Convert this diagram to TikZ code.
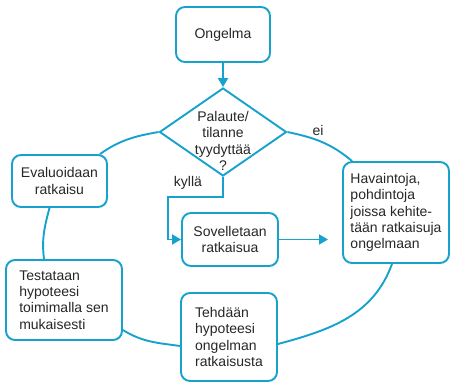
\documentclass[tikz,border=0pt]{standalone}
\usepackage{fontspec}
\setmainfont{Liberation Sans}
\usetikzlibrary{shapes.geometric,arrows.meta}
\definecolor{flow}{RGB}{22,162,204}
\begin{document}
\begin{tikzpicture}[x=1pt,y=1pt,
  every node/.style={font=\fontsize{14}{16.2}\selectfont, text=black!85},
  box/.style={draw=flow, line width=1.9pt, rounded corners=9pt, inner sep=0pt},
  link/.style={draw=flow, line width=1.9pt},
  arrow/.style={link, -{Triangle[length=9pt,width=10pt]}}]
\useasboundingbox (0,0) rectangle (455,-385);

% boxes
\node[box, minimum width=94pt, minimum height=55pt] (ong) at (223,-34.5) {Ongelma};
\node[draw=flow, line width=1.9pt, shape=diamond, minimum width=127pt, minimum height=88pt,
      inner sep=0pt] (dec) at (223,-132) {};
\node[align=center] (dectext) at (223,-141) {Palaute/\\tilanne\\tyydyttää\\?};
\node[box, minimum width=95pt, minimum height=52pt, align=center] (eval) at (59.5,-181)
  {Evaluoidaan\\ratkaisu};
\node[box, minimum width=116pt, minimum height=80pt, align=left] (test) at (64,-300)
  {Testataan\\hypoteesi\\toimimalla sen\\mukaisesti};
\node[box, minimum width=96pt, minimum height=53pt, align=center] (sov) at (230,-239.5)
  {Sovelletaan\\ratkaisua};
\node[box, minimum width=96pt, minimum height=88pt, align=left] (teh) at (229,-337)
  {Tehdään\\hypoteesi\\ongelman\\ratkaisusta};
\node[box, minimum width=106pt, minimum height=101pt, align=left] (hav) at (396,-212.5)
  {Havaintoja,\\pohdintoja\\joissa kehite-\\tään ratkaisuja\\ongelmaan};

% labels
\node (ei) at (318,-130) {ei};
\node (kylla) at (188,-183) {kyllä};

% connectors
\coordinate (tip) at (328,-239.5);
\draw[arrow] (ong.south) -- (dec.north);
\draw[arrow] (dec.south) -- ++(0,-20) -- ++(-55,0) |- (sov.west);
\draw[arrow] (sov.east) -- (tip);
\draw[link] (dec.west) to[out=190, in=35] ([xshift=-8pt]eval.north east);
\draw[link] (dec.east) to[out=-12, in=140] ([xshift=10pt]hav.north west);
\draw[link] ([xshift=-4pt]hav.south) to[out=250, in=15] ([yshift=-7pt]teh.east);
\draw[link] ([yshift=-9pt]teh.west) to[out=172, in=-32] ([yshift=-30pt]test.east);
\draw[link] ([xshift=-20pt]test.north) to[out=97, in=255] ([xshift=-10pt]eval.south);
\end{tikzpicture}
\end{document}
